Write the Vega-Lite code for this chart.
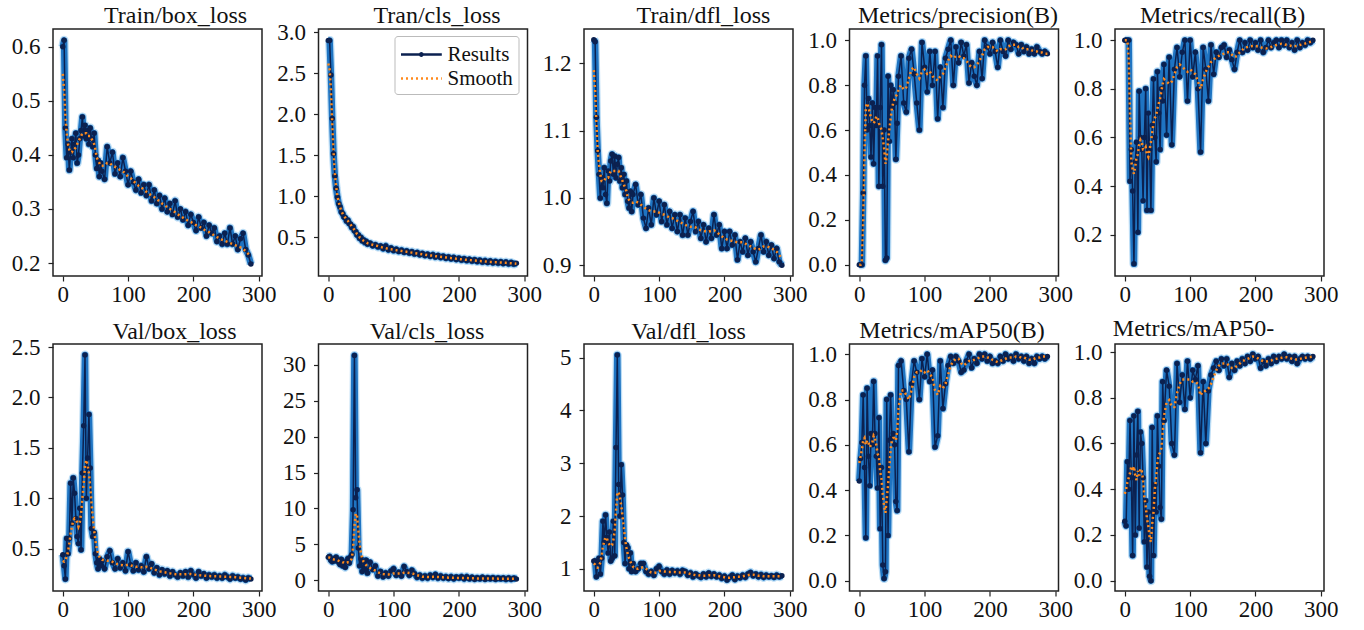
{
"$schema": "https://vega.github.io/schema/vega-lite/v6.json",
"background": "white",
"padding": {"left": 10, "top": 3, "right": 5, "bottom": 5},
"config": {
 "view": {"stroke": "#222", "strokeWidth": 1.5},
 "font": "Liberation Serif",
 "axis": {"grid": false, "domain": false, "tickColor": "#222", "tickSize": 5, "tickWidth": 1.2, "labelFont": "Liberation Serif", "labelFontSize": 23, "labelColor": "#111", "labelPadding": 8, "title": null},
 "title": {"font": "Liberation Serif", "fontSize": 24, "fontWeight": "normal", "color": "#111", "anchor": "middle", "baseline": "alphabetic"}
},
"data": {"values": [
{"e":0,"tb":0.6,"tbs":0.55,"tc":2.9,"tcs":2.62,"td":1.235,"tds":1.19,"pr":0,"prs":0,"rc":1,"rcs":1,"vb":0.44,"vbs":0.38,"vc":3.2,"vcs":3.2,"vd":1.15,"vds":1.1,"m5":0.44,"m5s":0.52,"m9":0.26,"m9s":0.38},
{"e":2,"tb":0.612,"tbs":0.52,"tc":2.9,"tcs":2.55,"td":1.232,"tds":1.16,"pr":0,"prs":0,"rc":1,"rcs":1,"vb":0.33,"vbs":0.37,"vc":3.3,"vcs":3.15,"vd":1.15,"vds":1.08,"m5":0.54,"m5s":0.55,"m9":0.24,"m9s":0.4},
{"e":4,"tb":0.45,"tbs":0.47,"tc":2.48,"tcs":2.3,"td":1.12,"tds":1.11,"pr":0,"prs":0.02,"rc":1,"rcs":1,"vb":0.2,"vbs":0.38,"vc":2.8,"vcs":3.05,"vd":0.85,"vds":1.03,"m5":0.61,"m5s":0.58,"m9":0.52,"m9s":0.43},
{"e":6,"tb":0.395,"tbs":0.44,"tc":1.95,"tcs":1.9,"td":1.07,"tds":1.07,"pr":0.32,"prs":0.2,"rc":1,"rcs":0.92,"vb":0.6,"vbs":0.42,"vc":2.6,"vcs":2.95,"vd":1.1,"vds":1.02,"m5":0.82,"m5s":0.62,"m9":0.4,"m9s":0.45},
{"e":8,"tb":0.42,"tbs":0.42,"tc":1.52,"tcs":1.55,"td":1.035,"tds":1.05,"pr":0.8,"prs":0.5,"rc":0.42,"rcs":0.7,"vb":0.45,"vbs":0.47,"vc":3.0,"vcs":2.9,"vd":1.2,"vds":1.05,"m5":0.5,"m5s":0.63,"m9":0.7,"m9s":0.47},
{"e":10,"tb":0.372,"tbs":0.41,"tc":1.25,"tcs":1.28,"td":1.0,"tds":1.035,"pr":0.93,"prs":0.7,"rc":0.55,"rcs":0.5,"vb":0.6,"vbs":0.55,"vc":2.7,"vcs":2.85,"vd":0.9,"vds":1.12,"m5":0.19,"m5s":0.6,"m9":0.45,"m9s":0.5},
{"e":12,"tb":0.405,"tbs":0.405,"tc":1.1,"tcs":1.12,"td":1.03,"tds":1.025,"pr":0.6,"prs":0.72,"rc":0.38,"rcs":0.47,"vb":1.15,"vbs":0.65,"vc":3.2,"vcs":2.85,"vd":1.2,"vds":1.25,"m5":0.85,"m5s":0.62,"m9":0.11,"m9s":0.48},
{"e":14,"tb":0.43,"tbs":0.405,"tc":0.99,"tcs":1.0,"td":1.015,"tds":1.025,"pr":0.74,"prs":0.7,"rc":0.08,"rcs":0.45,"vb":0.75,"vbs":0.72,"vc":2.9,"vcs":2.8,"vd":1.9,"vds":1.42,"m5":0.55,"m5s":0.61,"m9":0.72,"m9s":0.5},
{"e":16,"tb":0.395,"tbs":0.41,"tc":0.91,"tcs":0.93,"td":1.045,"tds":1.025,"pr":0.62,"prs":0.68,"rc":0.5,"rcs":0.48,"vb":1.2,"vbs":0.78,"vc":2.5,"vcs":2.7,"vd":1.5,"vds":1.52,"m5":0.42,"m5s":0.59,"m9":0.2,"m9s":0.46},
{"e":18,"tb":0.42,"tbs":0.41,"tc":0.87,"tcs":0.87,"td":1.005,"tds":1.03,"pr":0.48,"prs":0.65,"rc":0.58,"rcs":0.52,"vb":1.05,"vbs":0.8,"vc":2.2,"vcs":2.6,"vd":2.02,"vds":1.6,"m5":0.65,"m5s":0.6,"m9":0.55,"m9s":0.44},
{"e":20,"tb":0.44,"tbs":0.415,"tc":0.81,"tcs":0.82,"td":0.992,"tds":1.03,"pr":0.72,"prs":0.64,"rc":0.21,"rcs":0.53,"vb":0.8,"vbs":0.79,"vc":2.9,"vcs":2.6,"vd":1.6,"vds":1.58,"m5":0.6,"m5s":0.61,"m9":0.74,"m9s":0.48},
{"e":22,"tb":0.385,"tbs":0.42,"tc":0.79,"tcs":0.79,"td":1.04,"tds":1.03,"pr":0.45,"prs":0.63,"rc":0.79,"rcs":0.57,"vb":0.62,"vbs":0.76,"vc":2.0,"vcs":2.5,"vd":1.3,"vds":1.5,"m5":0.88,"m5s":0.64,"m9":0.23,"m9s":0.46},
{"e":24,"tb":0.4,"tbs":0.425,"tc":0.75,"tcs":0.76,"td":1.025,"tds":1.035,"pr":0.7,"prs":0.64,"rc":0.6,"rcs":0.59,"vb":0.55,"vbs":0.72,"vc":2.5,"vcs":2.45,"vd":1.7,"vds":1.46,"m5":0.65,"m5s":0.63,"m9":0.65,"m9s":0.49},
{"e":26,"tb":0.43,"tbs":0.43,"tc":0.74,"tcs":0.74,"td":1.055,"tds":1.04,"pr":0.62,"prs":0.66,"rc":0.55,"rcs":0.58,"vb":0.9,"vbs":0.76,"vc":1.8,"vcs":2.35,"vd":1.15,"vds":1.43,"m5":0.55,"m5s":0.6,"m9":0.6,"m9s":0.48},
{"e":28,"tb":0.445,"tbs":0.435,"tc":0.7,"tcs":0.71,"td":1.065,"tds":1.04,"pr":0.93,"prs":0.66,"rc":0.34,"rcs":0.55,"vb":0.49,"vbs":0.85,"vc":2.6,"vcs":2.4,"vd":1.2,"vds":1.45,"m5":0.41,"m5s":0.56,"m9":0.45,"m9s":0.44},
{"e":30,"tb":0.47,"tbs":0.44,"tc":0.71,"tcs":0.7,"td":1.035,"tds":1.04,"pr":0.35,"prs":0.63,"rc":0.6,"rcs":0.55,"vb":1.25,"vbs":1.0,"vc":3.0,"vcs":2.5,"vd":1.9,"vds":1.55,"m5":0.72,"m5s":0.55,"m9":0.17,"m9s":0.36},
{"e":32,"tb":0.435,"tbs":0.44,"tc":0.67,"tcs":0.68,"td":1.062,"tds":1.04,"pr":0.7,"prs":0.62,"rc":0.8,"rcs":0.56,"vb":1.72,"vbs":1.15,"vc":2.4,"vcs":2.5,"vd":1.25,"vds":1.72,"m5":0.23,"m5s":0.48,"m9":0.35,"m9s":0.33},
{"e":34,"tb":0.455,"tbs":0.44,"tc":0.66,"tcs":0.66,"td":1.03,"tds":1.04,"pr":0.98,"prs":0.6,"rc":0.3,"rcs":0.53,"vb":2.42,"vbs":1.32,"vc":3.2,"vcs":2.7,"vd":3.3,"vds":2.1,"m5":0.5,"m5s":0.45,"m9":0.06,"m9s":0.27},
{"e":36,"tb":0.43,"tbs":0.44,"tc":0.62,"tcs":0.63,"td":1.05,"tds":1.04,"pr":0.35,"prs":0.56,"rc":0.7,"rcs":0.52,"vb":1.0,"vbs":1.38,"vc":3.6,"vcs":3.0,"vd":5.05,"vds":2.45,"m5":0.07,"m5s":0.38,"m9":0.3,"m9s":0.24},
{"e":38,"tb":0.445,"tbs":0.435,"tc":0.63,"tcs":0.62,"td":1.06,"tds":1.04,"pr":0.6,"prs":0.52,"rc":0.55,"rcs":0.55,"vb":1.4,"vbs":1.33,"vc":9.8,"vcs":4.5,"vd":2.6,"vds":2.45,"m5":0.01,"m5s":0.33,"m9":0.02,"m9s":0.19},
{"e":40,"tb":0.42,"tbs":0.435,"tc":0.58,"tcs":0.59,"td":1.025,"tds":1.035,"pr":0.02,"prs":0.45,"rc":0.3,"rcs":0.58,"vb":1.83,"vbs":1.25,"vc":31.3,"vcs":7.5,"vd":2.0,"vds":2.35,"m5":0.04,"m5s":0.3,"m9":0.0,"m9s":0.17},
{"e":42,"tb":0.45,"tbs":0.435,"tc":0.57,"tcs":0.57,"td":1.045,"tds":1.03,"pr":0.03,"prs":0.48,"rc":0.65,"rcs":0.62,"vb":1.3,"vbs":1.12,"vc":11.5,"vcs":9.3,"vd":2.97,"vds":2.2,"m5":0.8,"m5s":0.36,"m9":0.67,"m9s":0.25},
{"e":44,"tb":0.43,"tbs":0.43,"tc":0.53,"tcs":0.54,"td":1.015,"tds":1.025,"pr":0.84,"prs":0.55,"rc":0.84,"rcs":0.66,"vb":0.7,"vbs":0.95,"vc":12.6,"vcs":9.0,"vd":2.4,"vds":2.0,"m5":0.2,"m5s":0.42,"m9":0.11,"m9s":0.3},
{"e":46,"tb":0.415,"tbs":0.425,"tc":0.53,"tcs":0.53,"td":1.035,"tds":1.02,"pr":0.55,"prs":0.6,"rc":0.6,"rcs":0.68,"vb":0.62,"vbs":0.8,"vc":4.5,"vcs":7.0,"vd":1.5,"vds":1.78,"m5":0.62,"m5s":0.5,"m9":0.42,"m9s":0.4},
{"e":48,"tb":0.44,"tbs":0.42,"tc":0.49,"tcs":0.5,"td":1.005,"tds":1.015,"pr":0.8,"prs":0.65,"rc":0.5,"rcs":0.69,"vb":0.66,"vbs":0.68,"vc":2.0,"vcs":5.0,"vd":1.1,"vds":1.55,"m5":0.82,"m5s":0.58,"m9":0.3,"m9s":0.45},
{"e":50,"tb":0.4,"tbs":0.41,"tc":0.5,"tcs":0.49,"td":1.025,"tds":1.01,"pr":0.7,"prs":0.7,"rc":0.87,"rcs":0.72,"vb":0.45,"vbs":0.58,"vc":3.0,"vcs":3.8,"vd":1.45,"vds":1.4,"m5":0.63,"m5s":0.62,"m9":0.72,"m9s":0.52},
{"e":52,"tb":0.375,"tbs":0.395,"tc":0.46,"tcs":0.47,"td":0.995,"tds":1.0,"pr":0.78,"prs":0.72,"rc":0.7,"rcs":0.74,"vb":0.36,"vbs":0.5,"vc":1.2,"vcs":3.0,"vd":1.4,"vds":1.28,"m5":0.65,"m5s":0.63,"m9":0.5,"m9s":0.55},
{"e":54,"tb":0.39,"tbs":0.39,"tc":0.47,"tcs":0.46,"td":0.985,"tds":0.997,"pr":0.72,"prs":0.74,"rc":0.55,"rcs":0.76,"vb":0.3,"vbs":0.45,"vc":2.6,"vcs":2.6,"vd":1.0,"vds":1.2,"m5":0.6,"m5s":0.63,"m9":0.32,"m9s":0.56},
{"e":56,"tb":0.36,"tbs":0.385,"tc":0.44,"tcs":0.45,"td":1.01,"tds":0.995,"pr":0.47,"prs":0.75,"rc":0.8,"rcs":0.79,"vb":0.4,"vbs":0.42,"vc":1.5,"vcs":2.3,"vd":1.3,"vds":1.14,"m5":0.35,"m5s":0.62,"m9":0.27,"m9s":0.58},
{"e":58,"tb":0.385,"tbs":0.38,"tc":0.45,"tcs":0.44,"td":0.98,"tds":0.993,"pr":0.63,"prs":0.76,"rc":0.75,"rcs":0.82,"vb":0.33,"vbs":0.4,"vc":2.8,"vcs":2.1,"vd":0.95,"vds":1.08,"m5":0.31,"m5s":0.66,"m9":0.87,"m9s":0.65},
{"e":60,"tb":0.37,"tbs":0.38,"tc":0.42,"tcs":0.43,"td":1.005,"tds":0.993,"pr":0.84,"prs":0.78,"rc":0.9,"rcs":0.84,"vb":0.38,"vbs":0.39,"vc":1.0,"vcs":1.9,"vd":1.1,"vds":1.04,"m5":0.95,"m5s":0.76,"m9":0.7,"m9s":0.72},
{"e":64,"tb":0.355,"tbs":0.38,"tc":0.43,"tcs":0.42,"td":1.02,"tds":0.995,"pr":0.93,"prs":0.8,"rc":0.61,"rcs":0.83,"vb":0.3,"vbs":0.385,"vc":2.5,"vcs":1.7,"vd":0.95,"vds":1.0,"m5":0.97,"m5s":0.84,"m9":0.92,"m9s":0.78},
{"e":68,"tb":0.415,"tbs":0.385,"tc":0.4,"tcs":0.41,"td":0.99,"tds":0.993,"pr":0.72,"prs":0.78,"rc":0.93,"rcs":0.82,"vb":0.42,"vbs":0.38,"vc":1.5,"vcs":1.5,"vd":1.0,"vds":1.0,"m5":0.84,"m5s":0.84,"m9":0.85,"m9s":0.79},
{"e":72,"tb":0.385,"tbs":0.385,"tc":0.41,"tcs":0.4,"td":1.005,"tds":0.99,"pr":0.68,"prs":0.79,"rc":0.57,"rcs":0.83,"vb":0.48,"vbs":0.38,"vc":2.0,"vcs":1.35,"vd":1.1,"vds":1.02,"m5":0.8,"m5s":0.82,"m9":0.6,"m9s":0.76},
{"e":76,"tb":0.405,"tbs":0.38,"tc":0.385,"tcs":0.395,"td":0.97,"tds":0.987,"pr":0.92,"prs":0.83,"rc":0.88,"rcs":0.86,"vb":0.36,"vbs":0.37,"vc":0.6,"vcs":1.1,"vd":1.1,"vds":1.03,"m5":0.57,"m5s":0.8,"m9":0.55,"m9s":0.76},
{"e":80,"tb":0.365,"tbs":0.378,"tc":0.395,"tcs":0.385,"td":0.955,"tds":0.984,"pr":0.96,"prs":0.87,"rc":0.97,"rcs":0.89,"vb":0.3,"vbs":0.355,"vc":1.2,"vcs":0.95,"vd":0.95,"vds":1.0,"m5":0.87,"m5s":0.84,"m9":0.95,"m9s":0.82},
{"e":84,"tb":0.385,"tbs":0.375,"tc":0.365,"tcs":0.375,"td":0.985,"tds":0.982,"pr":0.85,"prs":0.88,"rc":0.85,"rcs":0.9,"vb":0.4,"vbs":0.345,"vc":0.5,"vcs":0.85,"vd":0.9,"vds":0.96,"m5":0.97,"m5s":0.9,"m9":0.78,"m9s":0.86},
{"e":88,"tb":0.36,"tbs":0.372,"tc":0.395,"tcs":0.37,"td":0.96,"tds":0.98,"pr":0.72,"prs":0.85,"rc":0.95,"rcs":0.89,"vb":0.31,"vbs":0.34,"vc":1.0,"vcs":0.8,"vd":0.95,"vds":0.93,"m5":0.92,"m5s":0.92,"m9":0.9,"m9s":0.88},
{"e":92,"tb":0.395,"tbs":0.37,"tc":0.35,"tcs":0.36,"td":1.0,"tds":0.98,"pr":0.6,"prs":0.83,"rc":1.0,"rcs":0.88,"vb":0.36,"vbs":0.335,"vc":0.6,"vcs":0.8,"vd":0.88,"vds":0.92,"m5":0.8,"m5s":0.92,"m9":0.75,"m9s":0.88},
{"e":96,"tb":0.37,"tbs":0.365,"tc":0.37,"tcs":0.355,"td":0.975,"tds":0.98,"pr":0.99,"prs":0.86,"rc":0.75,"rcs":0.87,"vb":0.28,"vbs":0.335,"vc":1.3,"vcs":0.85,"vd":1.0,"vds":0.93,"m5":0.98,"m5s":0.93,"m9":0.96,"m9s":0.88},
{"e":100,"tb":0.345,"tbs":0.36,"tc":0.34,"tcs":0.35,"td":0.995,"tds":0.978,"pr":0.88,"prs":0.87,"rc":1.0,"rcs":0.88,"vb":0.47,"vbs":0.34,"vc":1.6,"vcs":0.95,"vd":1.05,"vds":0.96,"m5":0.9,"m5s":0.92,"m9":0.8,"m9s":0.88},
{"e":104,"tb":0.37,"tbs":0.357,"tc":0.355,"tcs":0.345,"td":0.965,"tds":0.976,"pr":0.77,"prs":0.85,"rc":0.85,"rcs":0.87,"vb":0.34,"vbs":0.335,"vc":0.7,"vcs":0.95,"vd":0.95,"vds":0.96,"m5":1.0,"m5s":0.93,"m9":0.92,"m9s":0.87},
{"e":108,"tb":0.35,"tbs":0.352,"tc":0.33,"tcs":0.34,"td":0.99,"tds":0.975,"pr":0.95,"prs":0.86,"rc":0.95,"rcs":0.86,"vb":0.28,"vbs":0.325,"vc":1.1,"vcs":0.95,"vd":0.9,"vds":0.95,"m5":0.88,"m5s":0.91,"m9":0.88,"m9s":0.87},
{"e":112,"tb":0.335,"tbs":0.347,"tc":0.345,"tcs":0.335,"td":0.96,"tds":0.973,"pr":0.8,"prs":0.84,"rc":0.8,"rcs":0.83,"vb":0.36,"vbs":0.32,"vc":0.6,"vcs":0.95,"vd":0.98,"vds":0.94,"m5":0.93,"m5s":0.9,"m9":0.94,"m9s":0.86},
{"e":116,"tb":0.355,"tbs":0.343,"tc":0.32,"tcs":0.33,"td":0.98,"tds":0.971,"pr":0.95,"prs":0.83,"rc":0.54,"rcs":0.8,"vb":0.29,"vbs":0.32,"vc":1.9,"vcs":1.05,"vd":0.9,"vds":0.94,"m5":0.59,"m5s":0.84,"m9":0.56,"m9s":0.81},
{"e":120,"tb":0.33,"tbs":0.34,"tc":0.335,"tcs":0.325,"td":0.955,"tds":0.97,"pr":0.65,"prs":0.82,"rc":0.97,"rcs":0.84,"vb":0.33,"vbs":0.315,"vc":1.2,"vcs":1.05,"vd":0.97,"vds":0.94,"m5":0.64,"m5s":0.82,"m9":0.87,"m9s":0.83},
{"e":124,"tb":0.345,"tbs":0.336,"tc":0.31,"tcs":0.32,"td":0.975,"tds":0.968,"pr":0.88,"prs":0.84,"rc":0.88,"rcs":0.87,"vb":0.27,"vbs":0.315,"vc":0.7,"vcs":1.0,"vd":0.92,"vds":0.94,"m5":0.97,"m5s":0.86,"m9":0.6,"m9s":0.83},
{"e":128,"tb":0.325,"tbs":0.332,"tc":0.325,"tcs":0.315,"td":0.95,"tds":0.966,"pr":0.7,"prs":0.85,"rc":0.75,"rcs":0.89,"vb":0.42,"vbs":0.32,"vc":1.4,"vcs":0.95,"vd":0.96,"vds":0.93,"m5":0.76,"m5s":0.85,"m9":0.83,"m9s":0.84},
{"e":132,"tb":0.345,"tbs":0.328,"tc":0.3,"tcs":0.31,"td":0.975,"tds":0.964,"pr":0.92,"prs":0.88,"rc":0.98,"rcs":0.91,"vb":0.3,"vbs":0.315,"vc":0.9,"vcs":0.85,"vd":0.9,"vds":0.93,"m5":0.87,"m5s":0.87,"m9":0.9,"m9s":0.86},
{"e":136,"tb":0.315,"tbs":0.325,"tc":0.315,"tcs":0.305,"td":0.945,"tds":0.962,"pr":0.96,"prs":0.91,"rc":0.86,"rcs":0.92,"vb":0.35,"vbs":0.305,"vc":0.4,"vcs":0.7,"vd":0.97,"vds":0.93,"m5":0.95,"m5s":0.91,"m9":0.93,"m9s":0.89},
{"e":140,"tb":0.335,"tbs":0.322,"tc":0.29,"tcs":0.3,"td":0.97,"tds":0.96,"pr":1.0,"prs":0.93,"rc":0.95,"rcs":0.93,"vb":0.26,"vbs":0.295,"vc":0.7,"vcs":0.6,"vd":0.95,"vds":0.93,"m5":0.99,"m5s":0.95,"m9":0.96,"m9s":0.92},
{"e":144,"tb":0.31,"tbs":0.318,"tc":0.305,"tcs":0.295,"td":0.945,"tds":0.958,"pr":0.8,"prs":0.92,"rc":0.93,"rcs":0.935,"vb":0.31,"vbs":0.285,"vc":0.3,"vcs":0.5,"vd":0.88,"vds":0.92,"m5":0.96,"m5s":0.97,"m9":0.92,"m9s":0.94},
{"e":148,"tb":0.325,"tbs":0.314,"tc":0.28,"tcs":0.29,"td":0.965,"tds":0.957,"pr":0.97,"prs":0.93,"rc":0.97,"rcs":0.94,"vb":0.24,"vbs":0.275,"vc":0.6,"vcs":0.48,"vd":0.92,"vds":0.9,"m5":0.99,"m5s":0.98,"m9":0.97,"m9s":0.95},
{"e":152,"tb":0.3,"tbs":0.31,"tc":0.295,"tcs":0.285,"td":0.98,"tds":0.957,"pr":0.9,"prs":0.93,"rc":0.98,"rcs":0.945,"vb":0.29,"vbs":0.27,"vc":0.3,"vcs":0.45,"vd":0.85,"vds":0.89,"m5":0.97,"m5s":0.98,"m9":0.94,"m9s":0.95},
{"e":156,"tb":0.32,"tbs":0.307,"tc":0.27,"tcs":0.28,"td":0.95,"tds":0.956,"pr":0.99,"prs":0.92,"rc":0.93,"rcs":0.95,"vb":0.25,"vbs":0.265,"vc":0.7,"vcs":0.45,"vd":0.9,"vds":0.88,"m5":0.92,"m5s":0.96,"m9":0.97,"m9s":0.95},
{"e":160,"tb":0.295,"tbs":0.303,"tc":0.29,"tcs":0.278,"td":0.965,"tds":0.954,"pr":0.93,"prs":0.92,"rc":0.96,"rcs":0.95,"vb":0.28,"vbs":0.26,"vc":0.4,"vcs":0.47,"vd":0.87,"vds":0.88,"m5":0.93,"m5s":0.95,"m9":0.89,"m9s":0.94},
{"e":164,"tb":0.31,"tbs":0.3,"tc":0.262,"tcs":0.272,"td":0.94,"tds":0.952,"pr":0.98,"prs":0.91,"rc":0.92,"rcs":0.94,"vb":0.23,"vbs":0.255,"vc":0.8,"vcs":0.47,"vd":0.84,"vds":0.87,"m5":0.97,"m5s":0.96,"m9":0.95,"m9s":0.93},
{"e":168,"tb":0.29,"tbs":0.297,"tc":0.28,"tcs":0.27,"td":0.96,"tds":0.951,"pr":0.81,"prs":0.89,"rc":0.88,"rcs":0.93,"vb":0.27,"vbs":0.25,"vc":0.3,"vcs":0.45,"vd":0.9,"vds":0.87,"m5":1.0,"m5s":0.97,"m9":0.92,"m9s":0.93},
{"e":172,"tb":0.315,"tbs":0.294,"tc":0.255,"tcs":0.265,"td":0.935,"tds":0.95,"pr":0.9,"prs":0.88,"rc":0.95,"rcs":0.935,"vb":0.24,"vbs":0.247,"vc":0.6,"vcs":0.43,"vd":0.85,"vds":0.87,"m5":0.94,"m5s":0.97,"m9":0.96,"m9s":0.94},
{"e":176,"tb":0.285,"tbs":0.29,"tc":0.27,"tcs":0.26,"td":0.955,"tds":0.95,"pr":0.84,"prs":0.88,"rc":1.0,"rcs":0.95,"vb":0.22,"vbs":0.245,"vc":0.3,"vcs":0.4,"vd":0.92,"vds":0.88,"m5":0.98,"m5s":0.975,"m9":0.94,"m9s":0.95},
{"e":180,"tb":0.3,"tbs":0.287,"tc":0.247,"tcs":0.256,"td":0.94,"tds":0.951,"pr":0.8,"prs":0.89,"rc":0.95,"rcs":0.96,"vb":0.26,"vbs":0.245,"vc":0.5,"vcs":0.38,"vd":0.86,"vds":0.88,"m5":0.96,"m5s":0.98,"m9":0.97,"m9s":0.96},
{"e":184,"tb":0.28,"tbs":0.284,"tc":0.262,"tcs":0.252,"td":0.975,"tds":0.952,"pr":0.95,"prs":0.91,"rc":0.99,"rcs":0.97,"vb":0.23,"vbs":0.245,"vc":0.25,"vcs":0.36,"vd":0.9,"vds":0.88,"m5":1.0,"m5s":0.985,"m9":0.95,"m9s":0.965},
{"e":188,"tb":0.295,"tbs":0.281,"tc":0.24,"tcs":0.248,"td":0.945,"tds":0.95,"pr":0.83,"prs":0.93,"rc":0.96,"rcs":0.972,"vb":0.27,"vbs":0.247,"vc":0.5,"vcs":0.35,"vd":0.85,"vds":0.87,"m5":0.98,"m5s":0.99,"m9":0.98,"m9s":0.97},
{"e":192,"tb":0.27,"tbs":0.278,"tc":0.255,"tcs":0.245,"td":0.96,"tds":0.946,"pr":1.0,"prs":0.96,"rc":1.0,"rcs":0.975,"vb":0.22,"vbs":0.248,"vc":0.2,"vcs":0.33,"vd":0.88,"vds":0.86,"m5":1.0,"m5s":0.99,"m9":0.96,"m9s":0.975},
{"e":196,"tb":0.29,"tbs":0.276,"tc":0.232,"tcs":0.24,"td":0.925,"tds":0.943,"pr":0.97,"prs":0.97,"rc":0.97,"rcs":0.976,"vb":0.28,"vbs":0.248,"vc":0.45,"vcs":0.32,"vd":0.82,"vds":0.85,"m5":0.97,"m5s":0.985,"m9":0.99,"m9s":0.98},
{"e":200,"tb":0.275,"tbs":0.273,"tc":0.247,"tcs":0.237,"td":0.95,"tds":0.94,"pr":0.94,"prs":0.97,"rc":0.99,"rcs":0.976,"vb":0.24,"vbs":0.245,"vc":0.3,"vcs":0.32,"vd":0.86,"vds":0.84,"m5":0.99,"m5s":0.985,"m9":0.97,"m9s":0.978},
{"e":204,"tb":0.26,"tbs":0.27,"tc":0.225,"tcs":0.233,"td":0.925,"tds":0.938,"pr":0.99,"prs":0.97,"rc":0.96,"rcs":0.974,"vb":0.21,"vbs":0.24,"vc":0.5,"vcs":0.32,"vd":0.79,"vds":0.83,"m5":0.96,"m5s":0.975,"m9":0.98,"m9s":0.972},
{"e":208,"tb":0.285,"tbs":0.268,"tc":0.24,"tcs":0.23,"td":0.95,"tds":0.937,"pr":0.95,"prs":0.96,"rc":1.0,"rcs":0.97,"vb":0.27,"vbs":0.237,"vc":0.2,"vcs":0.31,"vd":0.84,"vds":0.83,"m5":0.97,"m5s":0.97,"m9":0.93,"m9s":0.965},
{"e":212,"tb":0.265,"tbs":0.265,"tc":0.218,"tcs":0.227,"td":0.93,"tds":0.936,"pr":0.88,"prs":0.95,"rc":0.95,"rcs":0.968,"vb":0.23,"vbs":0.235,"vc":0.5,"vcs":0.3,"vd":0.88,"vds":0.84,"m5":0.96,"m5s":0.965,"m9":0.96,"m9s":0.96},
{"e":216,"tb":0.275,"tbs":0.262,"tc":0.233,"tcs":0.224,"td":0.945,"tds":0.935,"pr":1.0,"prs":0.96,"rc":0.97,"rcs":0.966,"vb":0.25,"vbs":0.232,"vc":0.2,"vcs":0.28,"vd":0.8,"vds":0.84,"m5":0.99,"m5s":0.97,"m9":0.94,"m9s":0.958},
{"e":220,"tb":0.25,"tbs":0.259,"tc":0.212,"tcs":0.221,"td":0.908,"tds":0.934,"pr":0.95,"prs":0.96,"rc":1.0,"rcs":0.968,"vb":0.21,"vbs":0.23,"vc":0.4,"vcs":0.27,"vd":0.86,"vds":0.85,"m5":0.97,"m5s":0.975,"m9":0.97,"m9s":0.96},
{"e":224,"tb":0.27,"tbs":0.257,"tc":0.228,"tcs":0.218,"td":0.935,"tds":0.934,"pr":0.93,"prs":0.96,"rc":0.97,"rcs":0.972,"vb":0.24,"vbs":0.228,"vc":0.15,"vcs":0.26,"vd":0.83,"vds":0.85,"m5":1.0,"m5s":0.98,"m9":0.95,"m9s":0.963},
{"e":228,"tb":0.255,"tbs":0.254,"tc":0.206,"tcs":0.215,"td":0.92,"tds":0.934,"pr":1.0,"prs":0.97,"rc":0.99,"rcs":0.976,"vb":0.22,"vbs":0.227,"vc":0.35,"vcs":0.25,"vd":0.88,"vds":0.86,"m5":0.98,"m5s":0.985,"m9":0.98,"m9s":0.967},
{"e":232,"tb":0.265,"tbs":0.251,"tc":0.222,"tcs":0.212,"td":0.94,"tds":0.932,"pr":0.96,"prs":0.98,"rc":1.0,"rcs":0.98,"vb":0.24,"vbs":0.226,"vc":0.2,"vcs":0.25,"vd":0.84,"vds":0.87,"m5":0.99,"m5s":0.985,"m9":0.96,"m9s":0.97},
{"e":236,"tb":0.24,"tbs":0.248,"tc":0.2,"tcs":0.21,"td":0.915,"tds":0.93,"pr":0.99,"prs":0.98,"rc":0.97,"rcs":0.983,"vb":0.21,"vbs":0.225,"vc":0.4,"vcs":0.25,"vd":0.9,"vds":0.88,"m5":0.97,"m5s":0.985,"m9":0.98,"m9s":0.973},
{"e":240,"tb":0.25,"tbs":0.246,"tc":0.217,"tcs":0.207,"td":0.935,"tds":0.928,"pr":0.98,"prs":0.98,"rc":1.0,"rcs":0.985,"vb":0.23,"vbs":0.224,"vc":0.15,"vcs":0.24,"vd":0.93,"vds":0.89,"m5":1.0,"m5s":0.99,"m9":0.97,"m9s":0.975},
{"e":244,"tb":0.235,"tbs":0.243,"tc":0.196,"tcs":0.205,"td":0.92,"tds":0.926,"pr":0.94,"prs":0.97,"rc":0.98,"rcs":0.983,"vb":0.21,"vbs":0.223,"vc":0.35,"vcs":0.24,"vd":0.87,"vds":0.89,"m5":0.98,"m5s":0.99,"m9":0.99,"m9s":0.978},
{"e":248,"tb":0.255,"tbs":0.241,"tc":0.212,"tcs":0.202,"td":0.905,"tds":0.924,"pr":0.98,"prs":0.97,"rc":1.0,"rcs":0.98,"vb":0.24,"vbs":0.222,"vc":0.2,"vcs":0.24,"vd":0.9,"vds":0.88,"m5":0.99,"m5s":0.985,"m9":0.97,"m9s":0.977},
{"e":252,"tb":0.235,"tbs":0.239,"tc":0.19,"tcs":0.2,"td":0.925,"tds":0.923,"pr":0.95,"prs":0.96,"rc":0.97,"rcs":0.978,"vb":0.22,"vbs":0.221,"vc":0.35,"vcs":0.23,"vd":0.85,"vds":0.87,"m5":0.97,"m5s":0.985,"m9":0.98,"m9s":0.975},
{"e":256,"tb":0.265,"tbs":0.237,"tc":0.207,"tcs":0.198,"td":0.945,"tds":0.925,"pr":0.97,"prs":0.96,"rc":0.99,"rcs":0.976,"vb":0.2,"vbs":0.22,"vc":0.15,"vcs":0.23,"vd":0.89,"vds":0.87,"m5":0.99,"m5s":0.98,"m9":0.96,"m9s":0.97},
{"e":260,"tb":0.235,"tbs":0.235,"tc":0.187,"tcs":0.196,"td":0.92,"tds":0.928,"pr":0.94,"prs":0.96,"rc":0.96,"rcs":0.975,"vb":0.23,"vbs":0.219,"vc":0.3,"vcs":0.22,"vd":0.84,"vds":0.86,"m5":0.96,"m5s":0.975,"m9":0.98,"m9s":0.967},
{"e":264,"tb":0.25,"tbs":0.233,"tc":0.203,"tcs":0.194,"td":0.935,"tds":0.928,"pr":0.96,"prs":0.955,"rc":1.0,"rcs":0.977,"vb":0.21,"vbs":0.217,"vc":0.2,"vcs":0.22,"vd":0.88,"vds":0.86,"m5":0.98,"m5s":0.975,"m9":0.95,"m9s":0.967},
{"e":268,"tb":0.225,"tbs":0.231,"tc":0.183,"tcs":0.192,"td":0.915,"tds":0.927,"pr":0.94,"prs":0.95,"rc":0.97,"rcs":0.98,"vb":0.22,"vbs":0.215,"vc":0.3,"vcs":0.22,"vd":0.85,"vds":0.86,"m5":0.96,"m5s":0.98,"m9":0.97,"m9s":0.97},
{"e":272,"tb":0.245,"tbs":0.229,"tc":0.2,"tcs":0.19,"td":0.93,"tds":0.925,"pr":0.97,"prs":0.95,"rc":0.99,"rcs":0.983,"vb":0.2,"vbs":0.212,"vc":0.12,"vcs":0.21,"vd":0.87,"vds":0.86,"m5":0.99,"m5s":0.985,"m9":0.98,"m9s":0.973},
{"e":276,"tb":0.255,"tbs":0.226,"tc":0.178,"tcs":0.188,"td":0.91,"tds":0.923,"pr":0.95,"prs":0.945,"rc":0.98,"rcs":0.986,"vb":0.21,"vbs":0.21,"vc":0.3,"vcs":0.21,"vd":0.84,"vds":0.86,"m5":0.98,"m5s":0.985,"m9":0.97,"m9s":0.975},
{"e":280,"tb":0.225,"tbs":0.222,"tc":0.195,"tcs":0.185,"td":0.925,"tds":0.92,"pr":0.94,"prs":0.945,"rc":1.0,"rcs":0.99,"vb":0.19,"vbs":0.207,"vc":0.15,"vcs":0.21,"vd":0.88,"vds":0.86,"m5":0.99,"m5s":0.99,"m9":0.98,"m9s":0.977},
{"e":284,"tb":0.215,"tbs":0.217,"tc":0.175,"tcs":0.183,"td":0.905,"tds":0.915,"pr":0.95,"prs":0.94,"rc":0.99,"rcs":0.993,"vb":0.21,"vbs":0.205,"vc":0.28,"vcs":0.21,"vd":0.85,"vds":0.86,"m5":0.98,"m5s":0.99,"m9":0.97,"m9s":0.978},
{"e":288,"tb":0.198,"tbs":0.212,"tc":0.185,"tcs":0.18,"td":0.9,"tds":0.91,"pr":0.94,"prs":0.94,"rc":1.0,"rcs":0.995,"vb":0.2,"vbs":0.203,"vc":0.18,"vcs":0.2,"vd":0.87,"vds":0.86,"m5":0.99,"m5s":0.99,"m9":0.98,"m9s":0.98}
]},
"spacing": 9,
"resolve": {"scale": {"color": "independent"}, "legend": {"color": "independent"}},
"vconcat": [
{"hconcat": [
 {"width": 209, "height": 247, "title": {"text": "Train/box_loss", "dx": 18, "offset": 1},
  "encoding": {"x": {"field": "e", "type": "quantitative", "scale": {"domain": [-15, 305], "nice": false, "zero": false}, "axis": {"values": [0, 100, 200, 300], "labelPadding": 2}}},
  "layer": [
   {"mark": {"type": "line", "color": "#8fc6ef", "strokeWidth": 9, "strokeJoin": "round", "opacity": 0.6}, "encoding": {"y": {"field": "tb", "type": "quantitative", "scale": {"domain": [0.176, 0.633], "nice": false, "zero": false}, "axis": {"values": [0.2, 0.3, 0.4, 0.5, 0.6], "format": ".1f"}}}},
   {"mark": {"type": "line", "color": "#1f74c2", "strokeWidth": 6.5, "strokeJoin": "round"}, "encoding": {"y": {"field": "tb", "type": "quantitative"}}},
   {"mark": {"type": "line", "color": "#0b2150", "strokeWidth": 1.5}, "encoding": {"y": {"field": "tb", "type": "quantitative"}}},
   {"mark": {"type": "circle", "color": "#0b2150", "size": 30, "opacity": 1}, "encoding": {"y": {"field": "tb", "type": "quantitative"}}},
   {"mark": {"type": "line", "color": "#ff8a1c", "strokeWidth": 2.5, "strokeDash": [2, 3]}, "encoding": {"y": {"field": "tbs", "type": "quantitative"}}}
  ]},
 {"width": 209, "height": 247, "title": {"text": "Tran/cls_loss", "dx": 14, "dy": 8, "offset": 1},
  "encoding": {"x": {"field": "e", "type": "quantitative", "scale": {"domain": [-15, 305], "nice": false, "zero": false}, "axis": {"values": [0, 100, 200, 300], "labelPadding": 2}}},
  "layer": [
   {"mark": {"type": "line", "color": "#8fc6ef", "strokeWidth": 9, "strokeJoin": "round", "opacity": 0.6}, "encoding": {"y": {"field": "tc", "type": "quantitative", "scale": {"domain": [0.03, 3.04], "nice": false, "zero": false}, "axis": {"values": [0.5, 1, 1.5, 2, 2.5, 3], "format": ".1f"}}}},
   {"mark": {"type": "line", "color": "#1f74c2", "strokeWidth": 6.5, "strokeJoin": "round"}, "encoding": {"y": {"field": "tc", "type": "quantitative"}}},
   {"mark": {"type": "line", "strokeWidth": 1.5}, "encoding": {"y": {"field": "tc", "type": "quantitative"},
     "color": {"datum": "Results", "scale": {"domain": ["Results", "Smooth"], "range": ["#0b2150", "#ff8a1c"]},
      "legend": {"title": null, "orient": "none", "legendX": 76, "legendY": 7, "fillColor": "white", "strokeColor": "#bbbbbb", "padding": 5, "cornerRadius": 3, "labelFont": "Liberation Serif", "labelFontSize": 21, "labelColor": "#111", "symbolSize": 576, "symbolStrokeWidth": 2.5, "labelOffset": 21, "rowPadding": 0,
       "encode": {"symbols": {"update": {"strokeDash": {"signal": "datum.value === 'Smooth' ? [2,3] : [1,0]"}, "shape": {"signal": "datum.value === 'Smooth' ? 'M-1,0H2.4' : 'M-1,0H2.4M0.6,0A0.1,0.1,0,1,1,0.8,0A0.1,0.1,0,1,1,0.6,0'"}}}}}}}},
   {"mark": {"type": "circle", "color": "#0b2150", "size": 30, "opacity": 1}, "encoding": {"y": {"field": "tc", "type": "quantitative"}}},
   {"mark": {"type": "line", "strokeWidth": 2.5, "strokeDash": [2, 3]}, "encoding": {"y": {"field": "tcs", "type": "quantitative"}, "color": {"datum": "Smooth"}}}
  ]},
 {"width": 209, "height": 247, "title": {"text": "Train/dfl_loss", "dx": 15, "offset": 1},
  "encoding": {"x": {"field": "e", "type": "quantitative", "scale": {"domain": [-15, 305], "nice": false, "zero": false}, "axis": {"values": [0, 100, 200, 300], "labelPadding": 2}}},
  "layer": [
   {"mark": {"type": "line", "color": "#8fc6ef", "strokeWidth": 9, "strokeJoin": "round", "opacity": 0.6}, "encoding": {"y": {"field": "td", "type": "quantitative", "scale": {"domain": [0.884, 1.251], "nice": false, "zero": false}, "axis": {"values": [0.9, 1.0, 1.1, 1.2], "format": ".1f"}}}},
   {"mark": {"type": "line", "color": "#1f74c2", "strokeWidth": 6.5, "strokeJoin": "round"}, "encoding": {"y": {"field": "td", "type": "quantitative"}}},
   {"mark": {"type": "line", "color": "#0b2150", "strokeWidth": 1.5}, "encoding": {"y": {"field": "td", "type": "quantitative"}}},
   {"mark": {"type": "circle", "color": "#0b2150", "size": 30, "opacity": 1}, "encoding": {"y": {"field": "td", "type": "quantitative"}}},
   {"mark": {"type": "line", "color": "#ff8a1c", "strokeWidth": 2.5, "strokeDash": [2, 3]}, "encoding": {"y": {"field": "tds", "type": "quantitative"}}}
  ]},
 {"width": 209, "height": 247, "title": {"text": "Metrics/precision(B)", "dx": 4, "offset": 1},
  "encoding": {"x": {"field": "e", "type": "quantitative", "scale": {"domain": [-15, 305], "nice": false, "zero": false}, "axis": {"values": [0, 100, 200, 300], "labelPadding": 2}}},
  "layer": [
   {"mark": {"type": "line", "color": "#8fc6ef", "strokeWidth": 9, "strokeJoin": "round", "opacity": 0.6}, "encoding": {"y": {"field": "pr", "type": "quantitative", "scale": {"domain": [-0.05, 1.05], "nice": false, "zero": false}, "axis": {"values": [0, 0.2, 0.4, 0.6, 0.8, 1], "format": ".1f"}}}},
   {"mark": {"type": "line", "color": "#1f74c2", "strokeWidth": 6.5, "strokeJoin": "round"}, "encoding": {"y": {"field": "pr", "type": "quantitative"}}},
   {"mark": {"type": "line", "color": "#0b2150", "strokeWidth": 1.5}, "encoding": {"y": {"field": "pr", "type": "quantitative"}}},
   {"mark": {"type": "circle", "color": "#0b2150", "size": 30, "opacity": 1}, "encoding": {"y": {"field": "pr", "type": "quantitative"}}},
   {"mark": {"type": "line", "color": "#ff8a1c", "strokeWidth": 2.5, "strokeDash": [2, 3]}, "encoding": {"y": {"field": "prs", "type": "quantitative"}}}
  ]},
 {"width": 209, "height": 247, "title": {"text": "Metrics/recall(B)", "dx": 3, "offset": 1},
  "encoding": {"x": {"field": "e", "type": "quantitative", "scale": {"domain": [-15, 305], "nice": false, "zero": false}, "axis": {"values": [0, 100, 200, 300], "labelPadding": 2}}},
  "layer": [
   {"mark": {"type": "line", "color": "#8fc6ef", "strokeWidth": 9, "strokeJoin": "round", "opacity": 0.6}, "encoding": {"y": {"field": "rc", "type": "quantitative", "scale": {"domain": [0.03, 1.046], "nice": false, "zero": false}, "axis": {"values": [0.2, 0.4, 0.6, 0.8, 1], "format": ".1f"}}}},
   {"mark": {"type": "line", "color": "#1f74c2", "strokeWidth": 6.5, "strokeJoin": "round"}, "encoding": {"y": {"field": "rc", "type": "quantitative"}}},
   {"mark": {"type": "line", "color": "#0b2150", "strokeWidth": 1.5}, "encoding": {"y": {"field": "rc", "type": "quantitative"}}},
   {"mark": {"type": "circle", "color": "#0b2150", "size": 30, "opacity": 1}, "encoding": {"y": {"field": "rc", "type": "quantitative"}}},
   {"mark": {"type": "line", "color": "#ff8a1c", "strokeWidth": 2.5, "strokeDash": [2, 3]}, "encoding": {"y": {"field": "rcs", "type": "quantitative"}}}
  ]}
 ], "spacing": 56.5, "bounds": "flush", "resolve": {"scale": {"color": "independent"}, "legend": {"color": "independent"}}},
{"hconcat": [
 {"width": 209, "height": 247, "title": {"text": "Val/box_loss", "dx": 17, "dy": 8, "offset": 0},
  "encoding": {"x": {"field": "e", "type": "quantitative", "scale": {"domain": [-15, 305], "nice": false, "zero": false}, "axis": {"values": [0, 100, 200, 300], "labelPadding": 2}}},
  "layer": [
   {"mark": {"type": "line", "color": "#8fc6ef", "strokeWidth": 9, "strokeJoin": "round", "opacity": 0.6}, "encoding": {"y": {"field": "vb", "type": "quantitative", "scale": {"domain": [0.08, 2.53], "nice": false, "zero": false}, "axis": {"values": [0.5, 1, 1.5, 2, 2.5], "format": ".1f"}}}},
   {"mark": {"type": "line", "color": "#1f74c2", "strokeWidth": 6.5, "strokeJoin": "round"}, "encoding": {"y": {"field": "vb", "type": "quantitative"}}},
   {"mark": {"type": "line", "color": "#0b2150", "strokeWidth": 1.5}, "encoding": {"y": {"field": "vb", "type": "quantitative"}}},
   {"mark": {"type": "circle", "color": "#0b2150", "size": 30, "opacity": 1}, "encoding": {"y": {"field": "vb", "type": "quantitative"}}},
   {"mark": {"type": "line", "color": "#ff8a1c", "strokeWidth": 2.5, "strokeDash": [2, 3]}, "encoding": {"y": {"field": "vbs", "type": "quantitative"}}}
  ]},
 {"width": 209, "height": 247, "title": {"text": "Val/cls_loss", "dx": 4, "offset": 0},
  "encoding": {"x": {"field": "e", "type": "quantitative", "scale": {"domain": [-15, 305], "nice": false, "zero": false}, "axis": {"values": [0, 100, 200, 300], "labelPadding": 2}}},
  "layer": [
   {"mark": {"type": "line", "color": "#8fc6ef", "strokeWidth": 9, "strokeJoin": "round", "opacity": 0.6}, "encoding": {"y": {"field": "vc", "type": "quantitative", "scale": {"domain": [-1.5, 32.9], "nice": false, "zero": false}, "axis": {"values": [0, 5, 10, 15, 20, 25, 30], "format": "d"}}}},
   {"mark": {"type": "line", "color": "#1f74c2", "strokeWidth": 6.5, "strokeJoin": "round"}, "encoding": {"y": {"field": "vc", "type": "quantitative"}}},
   {"mark": {"type": "line", "color": "#0b2150", "strokeWidth": 1.5}, "encoding": {"y": {"field": "vc", "type": "quantitative"}}},
   {"mark": {"type": "circle", "color": "#0b2150", "size": 30, "opacity": 1}, "encoding": {"y": {"field": "vc", "type": "quantitative"}}},
   {"mark": {"type": "line", "color": "#ff8a1c", "strokeWidth": 2.5, "strokeDash": [2, 3]}, "encoding": {"y": {"field": "vcs", "type": "quantitative"}}}
  ]},
 {"width": 209, "height": 247, "title": {"text": "Val/dfl_loss", "dx": 0, "offset": 0},
  "encoding": {"x": {"field": "e", "type": "quantitative", "scale": {"domain": [-15, 305], "nice": false, "zero": false}, "axis": {"values": [0, 100, 200, 300], "labelPadding": 2}}},
  "layer": [
   {"mark": {"type": "line", "color": "#8fc6ef", "strokeWidth": 9, "strokeJoin": "round", "opacity": 0.6}, "encoding": {"y": {"field": "vd", "type": "quantitative", "scale": {"domain": [0.58, 5.26], "nice": false, "zero": false}, "axis": {"values": [1, 2, 3, 4, 5], "format": "d"}}}},
   {"mark": {"type": "line", "color": "#1f74c2", "strokeWidth": 6.5, "strokeJoin": "round"}, "encoding": {"y": {"field": "vd", "type": "quantitative"}}},
   {"mark": {"type": "line", "color": "#0b2150", "strokeWidth": 1.5}, "encoding": {"y": {"field": "vd", "type": "quantitative"}}},
   {"mark": {"type": "circle", "color": "#0b2150", "size": 30, "opacity": 1}, "encoding": {"y": {"field": "vd", "type": "quantitative"}}},
   {"mark": {"type": "line", "color": "#ff8a1c", "strokeWidth": 2.5, "strokeDash": [2, 3]}, "encoding": {"y": {"field": "vds", "type": "quantitative"}}}
  ]},
 {"width": 209, "height": 247, "title": {"text": "Metrics/mAP50(B)", "dx": -2, "offset": 0},
  "encoding": {"x": {"field": "e", "type": "quantitative", "scale": {"domain": [-15, 305], "nice": false, "zero": false}, "axis": {"values": [0, 100, 200, 300], "labelPadding": 2}}},
  "layer": [
   {"mark": {"type": "line", "color": "#8fc6ef", "strokeWidth": 9, "strokeJoin": "round", "opacity": 0.6}, "encoding": {"y": {"field": "m5", "type": "quantitative", "scale": {"domain": [-0.045, 1.045], "nice": false, "zero": false}, "axis": {"values": [0, 0.2, 0.4, 0.6, 0.8, 1], "format": ".1f"}}}},
   {"mark": {"type": "line", "color": "#1f74c2", "strokeWidth": 6.5, "strokeJoin": "round"}, "encoding": {"y": {"field": "m5", "type": "quantitative"}}},
   {"mark": {"type": "line", "color": "#0b2150", "strokeWidth": 1.5}, "encoding": {"y": {"field": "m5", "type": "quantitative"}}},
   {"mark": {"type": "circle", "color": "#0b2150", "size": 30, "opacity": 1}, "encoding": {"y": {"field": "m5", "type": "quantitative"}}},
   {"mark": {"type": "line", "color": "#ff8a1c", "strokeWidth": 2.5, "strokeDash": [2, 3]}, "encoding": {"y": {"field": "m5s", "type": "quantitative"}}}
  ]},
 {"width": 209, "height": 247, "title": {"text": "Metrics/mAP50-", "dx": -26, "offset": 0},
  "encoding": {"x": {"field": "e", "type": "quantitative", "scale": {"domain": [-15, 305], "nice": false, "zero": false}, "axis": {"values": [0, 100, 200, 300], "labelPadding": 2}}},
  "layer": [
   {"mark": {"type": "line", "color": "#8fc6ef", "strokeWidth": 9, "strokeJoin": "round", "opacity": 0.6}, "encoding": {"y": {"field": "m9", "type": "quantitative", "scale": {"domain": [-0.045, 1.035], "nice": false, "zero": false}, "axis": {"values": [0, 0.2, 0.4, 0.6, 0.8, 1], "format": ".1f"}}}},
   {"mark": {"type": "line", "color": "#1f74c2", "strokeWidth": 6.5, "strokeJoin": "round"}, "encoding": {"y": {"field": "m9", "type": "quantitative"}}},
   {"mark": {"type": "line", "color": "#0b2150", "strokeWidth": 1.5}, "encoding": {"y": {"field": "m9", "type": "quantitative"}}},
   {"mark": {"type": "circle", "color": "#0b2150", "size": 30, "opacity": 1}, "encoding": {"y": {"field": "m9", "type": "quantitative"}}},
   {"mark": {"type": "line", "color": "#ff8a1c", "strokeWidth": 2.5, "strokeDash": [2, 3]}, "encoding": {"y": {"field": "m9s", "type": "quantitative"}}}
  ]}
 ], "spacing": 56.5, "bounds": "flush", "resolve": {"scale": {"color": "independent"}, "legend": {"color": "independent"}}}
]
}
